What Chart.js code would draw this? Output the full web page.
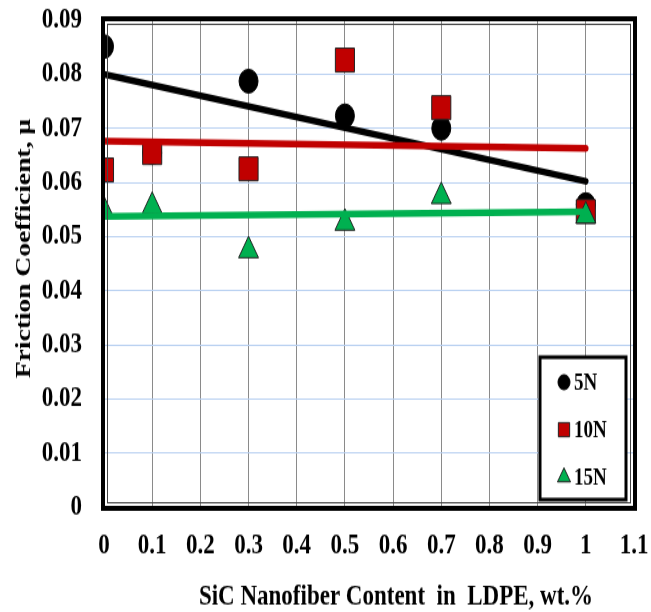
<!DOCTYPE html>
<html>
<head>
<meta charset="utf-8">
<script src="https://cdn.jsdelivr.net/npm/chart.js@4/dist/chart.umd.min.js"></script>
<style>
  html, body { margin: 0; padding: 0; background: #fff; overflow: hidden; width: 651px; height: 612px; }
  #wrap { width: 651px; height: 490px; transform: scaleY(1.249); transform-origin: 0 0; }
  #spacer { height: 122px; }
</style>
</head>
<body>
<div id="wrap"><canvas id="chart" width="651" height="490"></canvas></div>
<div id="spacer"></div>
<script>
// SiC content (wt.%)
const sicContent = [0, 0.1, 0.3, 0.5, 0.7, 1];
// measured friction coefficients
const mu5N = [0.0851, 0.0655, 0.0787, 0.0723, 0.0700, 0.0559];
const mu10N = [0.0623, 0.0655, 0.0625, 0.0826, 0.0738, 0.0546];
const mu15N = [0.0548, 0.0556, 0.0474, 0.0525, 0.0574, 0.0538];
// linear trend lines, ends at x = 0 and x = 1
const trendX = [0, 1];
const trend5N = [0.0800, 0.0602];
const trend10N = [0.0676, 0.0663];
const trend15N = [0.0537, 0.0546];
// axis tick labels
const xTickLabels = ['0', '0.1', '0.2', '0.3', '0.4', '0.5', '0.6', '0.7', '0.8', '0.9', '1', '1.1'];
const yTickLabels = ['0', '0.01', '0.02', '0.03', '0.04', '0.05', '0.06', '0.07', '0.08', '0.09'];

const FONT = '"Liberation Serif", "Times New Roman", serif';
const BLACK = '#000000';
const RED = '#c00000';
const GREEN = '#00b050';

const pts = (xs, ys) => xs.map((x, i) => ({ x: x, y: ys[i] }));

// frame, axis titles and the boxed legend
const extras = {
    id: 'extras',
    afterDraw(chart) {
        const ctx = chart.ctx;
        const a = chart.chartArea;
        ctx.save();
        // double frame round the plot
        ctx.strokeStyle = '#000';
        ctx.lineWidth = 4;
        ctx.strokeRect(a.left - 1, a.top - 1, a.right - a.left + 2, a.bottom - a.top + 2);
        ctx.lineWidth = 1;
        ctx.strokeStyle = '#444';
        ctx.strokeRect(a.left + 3.5, a.top + 3.5, a.right - a.left - 7, a.bottom - a.top - 7);

        // axis titles
        ctx.fillStyle = '#000';
        ctx.font = 'bold 23px ' + FONT;
        ctx.textAlign = 'center';
        ctx.textBaseline = 'middle';
        ctx.fillText('SiC Nanofiber Content  in  LDPE, wt.%', 396, 478);
        ctx.save();
        ctx.translate(24, 199);
        ctx.rotate(-Math.PI / 2);
        ctx.font = 'bold 22px ' + FONT;
        ctx.fillText('Friction Coefficient, \u03bc', 0, 0);
        ctx.restore();

        // legend box
        ctx.fillStyle = '#fff';
        ctx.fillRect(540, 286, 86, 114);
        ctx.lineWidth = 3;
        ctx.strokeStyle = '#000';
        ctx.strokeRect(540, 286, 86, 114);
        const rows = [306, 344, 382];
        const sizes = [6, 8, 7.5];
        chart.data.datasets.filter(d => d.showInLegend).forEach((d, i) => {
            ctx.fillStyle = d.backgroundColor;
            ctx.strokeStyle = d.pointBorderColor;
            ctx.lineWidth = 1;
            ctx.beginPath();
            if (d.pointStyle === 'circle') ctx.arc(564, rows[i], sizes[i], 0, Math.PI * 2);
            else if (d.pointStyle === 'rect') ctx.rect(564 - sizes[i] * 0.707, rows[i] - sizes[i] * 0.707, sizes[i] * 1.414, sizes[i] * 1.414);
            else {
                ctx.moveTo(564, rows[i] - sizes[i]);
                ctx.lineTo(564 + sizes[i] * 0.866, rows[i] + sizes[i] * 0.5);
                ctx.lineTo(564 - sizes[i] * 0.866, rows[i] + sizes[i] * 0.5);
                ctx.closePath();
            }
            ctx.fill();
            ctx.stroke();
            ctx.fillStyle = '#000';
            ctx.font = 'bold 19px ' + FONT;
            ctx.textAlign = 'left';
            ctx.fillText(d.label, 574, rows[i] + 1);
        });
        ctx.restore();
    }
};

const trendStyle = {
    type: 'line',
    pointRadius: 0,
    borderWidth: 5.5,
    borderCapStyle: 'round',
    fill: false,
    showInLegend: false
};

new Chart(document.getElementById('chart'), {
    type: 'scatter',
    data: {
        datasets: [
            { label: '5N', data: pts(sicContent, mu5N), pointStyle: 'circle', pointRadius: 9.5,
              backgroundColor: BLACK, pointBorderColor: BLACK, borderColor: BLACK, borderWidth: 1, order: 13, showInLegend: true },
            { label: '10N', data: pts(sicContent, mu10N), pointStyle: 'rect', pointRadius: 13.5,
              backgroundColor: RED, pointBorderColor: '#222', borderColor: '#222', borderWidth: 1, order: 12, showInLegend: true },
            { label: '15N', data: pts(sicContent, mu15N), pointStyle: 'triangle', pointRadius: 11.5,
              backgroundColor: GREEN, pointBorderColor: '#222', borderColor: '#222', borderWidth: 1, order: 11, showInLegend: true },
            Object.assign({ label: 'trend 5N', data: pts(trendX, trend5N), borderColor: BLACK, order: 3 }, trendStyle),
            Object.assign({ label: 'trend 10N', data: pts(trendX, trend10N), borderColor: RED, order: 2 }, trendStyle),
            Object.assign({ label: 'trend 15N', data: pts(trendX, trend15N), borderColor: GREEN, order: 1 }, trendStyle)
        ]
    },
    options: {
        responsive: false,
        animation: false,
        layout: { padding: { top: 16, right: 17, left: 0, bottom: 0 } },
        plugins: { legend: { display: false }, tooltip: { enabled: false } },
        scales: {
            x: {
                type: 'linear',
                min: 0,
                max: 1.1,
                afterFit: s => { s.height = 84; s.paddingLeft = 0; s.paddingRight = 0; },
                afterBuildTicks: s => { s.ticks = xTickLabels.map(t => ({ value: parseFloat(t) })); },
                grid: { color: '#8a8a8a', lineWidth: 1, drawTicks: false },
                border: { display: false },
                ticks: {
                    padding: 17,
                    color: '#000',
                    font: { family: FONT, size: 23, weight: 'bold' },
                    maxRotation: 0,
                    autoSkip: false,
                    callback: (v, i) => xTickLabels[i]
                }
            },
            y: {
                type: 'linear',
                min: 0,
                max: 0.09,
                afterFit: s => { s.width = 104; s.paddingTop = 0; s.paddingBottom = 0; },
                afterBuildTicks: s => { s.ticks = yTickLabels.map(t => ({ value: parseFloat(t) })); },
                grid: { color: '#b7cff0', lineWidth: 1, drawTicks: false },
                border: { display: false },
                ticks: {
                    padding: 22,
                    color: '#000',
                    font: { family: FONT, size: 23, weight: 'bold' },
                    autoSkip: false,
                    callback: (v, i) => yTickLabels[i]
                }
            }
        }
    },
    plugins: [extras]
});
</script>
</body>
</html>
